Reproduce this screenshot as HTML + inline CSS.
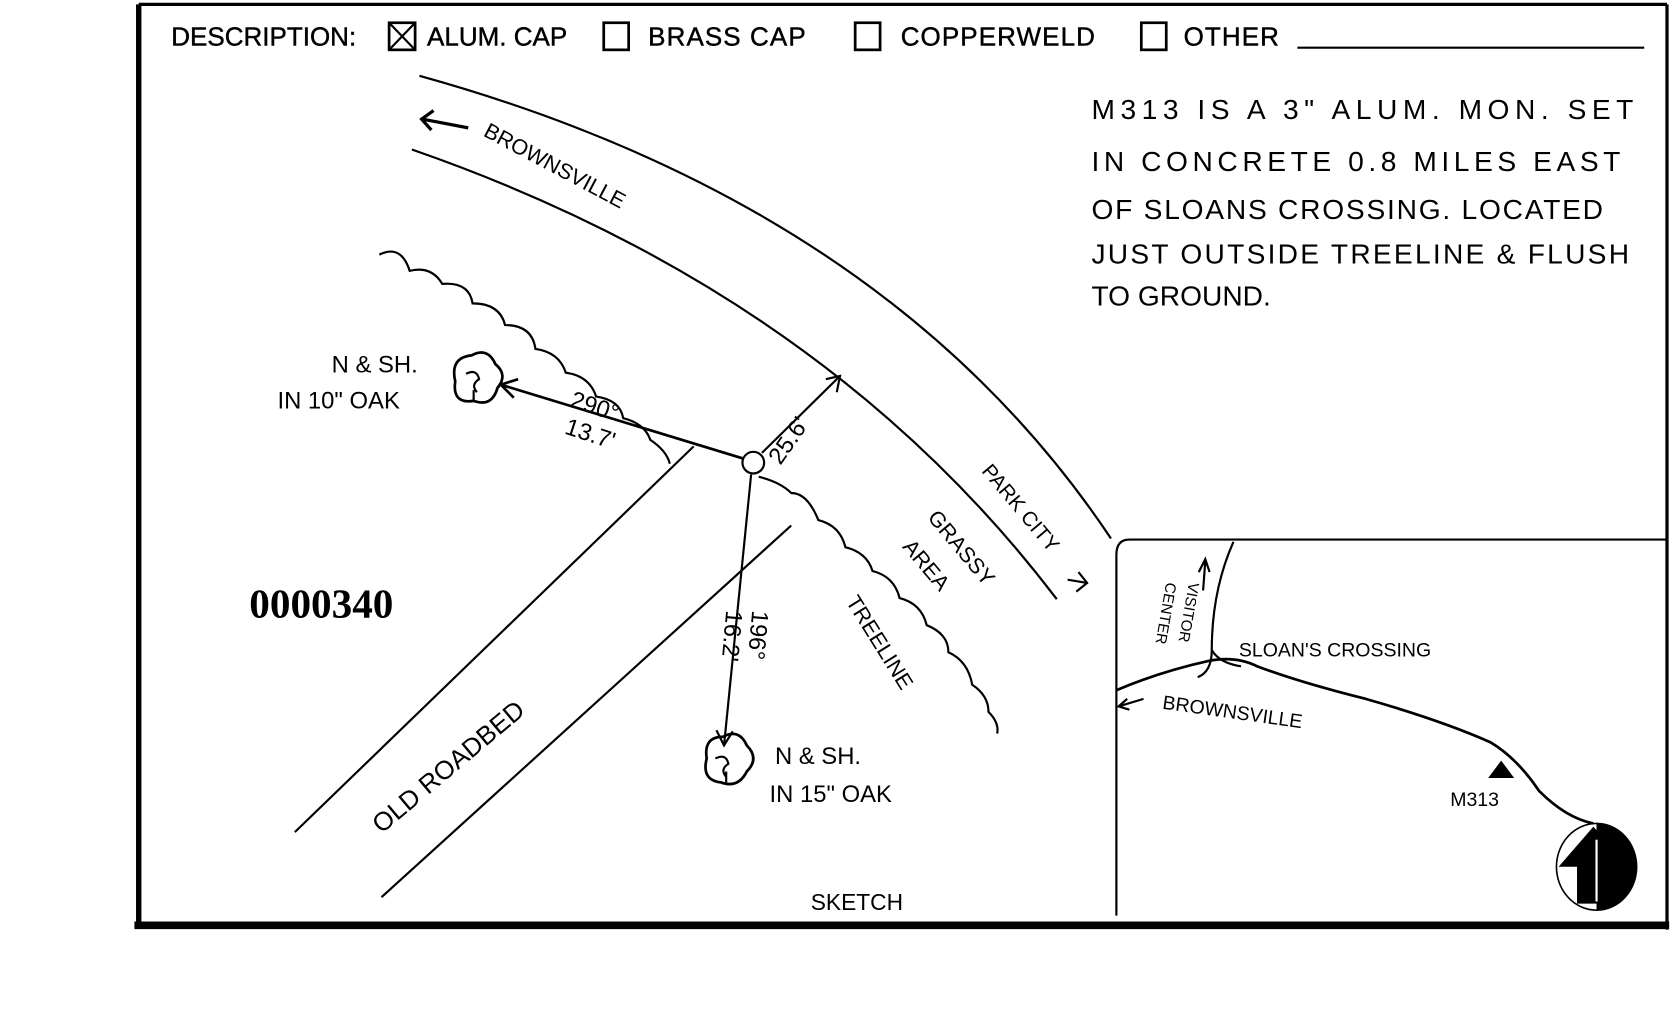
<!DOCTYPE html>
<html><head><meta charset="utf-8"><style>
html,body{margin:0;padding:0;background:#fff;}
svg{display:block}
text{font-family:"Liberation Sans",sans-serif;fill:#000}
.h{font-family:"Liberation Sans Narrow","Liberation Sans",sans-serif;}
</style></head><body>
<svg width="1680" height="1012" viewBox="0 0 1550 934" preserveAspectRatio="none">
<g fill="none" stroke="#000">
<line x1="128" y1="4" x2="1538" y2="4" stroke-width="3"/>
<line x1="128" y1="4" x2="128" y2="855" stroke-width="5"/>
<line x1="1538" y1="4" x2="1538" y2="858" stroke-width="3"/>
<line x1="124" y1="854" x2="1540" y2="854" stroke-width="7"/>
<rect x="359" y="21" width="24" height="25" stroke-width="2.5"/>
<line x1="359" y1="21" x2="383" y2="46" stroke-width="2"/><line x1="383" y1="21" x2="359" y2="46" stroke-width="2"/>
<rect x="557" y="21" width="23" height="25" stroke-width="2.5"/>
<rect x="789" y="21" width="23" height="25" stroke-width="2.5"/>
<rect x="1053" y="21" width="23" height="25" stroke-width="2.5"/>
<line x1="1197" y1="44" x2="1517" y2="44" stroke-width="2"/>
<path d="M387,70 Q820,190 1025,497" stroke-width="2"/>
<path d="M380,138 Q760,270 975,553" stroke-width="2"/>
<path d="M350,235 q20,-10 28,15 q20,-5 30,12 q25,-2 28,18 q25,0 30,20 q25,0 28,22 q22,3 28,22 q22,3 28,22 q22,3 25,20 q20,5 25,20 q15,10 18,22" stroke-width="2"/>
<path d="M700,440 q20,5 30,15 q15,0 25,25 q20,5 25,25 q20,5 25,22 q20,5 25,25 q20,5 25,25 q20,8 20,25 q18,8 22,30 q15,10 15,25 q10,10 8,20" stroke-width="2"/>
<line x1="272" y1="768" x2="640" y2="412" stroke-width="2"/>
<line x1="352" y1="828" x2="730" y2="485" stroke-width="2"/>
<circle cx="695" cy="427" r="10" stroke-width="2"/>
<line x1="685" y1="423" x2="462" y2="355" stroke-width="2.5"/>
<path d="M478,350 L462,355 L474,367" stroke-width="2.5"/>
<line x1="703" y1="418" x2="775" y2="347" stroke-width="2"/>
<path d="M762,350 L775,347 L772,362" stroke-width="2"/>
<line x1="693" y1="438" x2="668" y2="688" stroke-width="2"/>
<path d="M661,674 L668,688 L676,675" stroke-width="2"/>
<path d="M420,352 q-5,-22 15,-24 q15,-8 22,8 q12,10 2,22 q-5,18 -22,12 q-20,3 -17,-18 z" stroke-width="2.5"/>
<path d="M430,345 q10,-5 12,5 q-8,5 -2,12 M437,360 v10" stroke-width="2"/>
<path d="M652,700 q-3,-20 15,-20 q15,-8 22,8 q12,12 0,24 q-8,16 -24,10 q-18,-2 -13,-22 z" stroke-width="2.5"/>
<path d="M660,700 q10,-5 12,5 q-8,5 -2,12 M670,712 v10" stroke-width="2"/>
<path d="M1538,498 L1042,498 Q1030,498 1030,512 L1030,845" stroke-width="2"/>
<path d="M1030,637 Q1070,620 1115,610 Q1140,605 1160,615 Q1200,630 1260,645 Q1330,665 1375,685 Q1400,700 1420,730 Q1445,755 1470,760" stroke-width="2.5"/>
<path d="M1138,500 Q1118,545 1118,600 Q1118,620 1105,625" stroke-width="2"/>
<path d="M1118,600 Q1125,612 1145,615" stroke-width="2"/>
<path d="M1110,545 L1112,518 M1106,528 L1112,516 L1116,528" stroke-width="2"/>
<path d="M1040,645 L1032,652 L1042,655 M1032,652 L1055,645" stroke-width="2"/>
<path d="M390,110 L432,118 M400,102 L389,110 L398,120" stroke-width="3"/>
<path d="M985,535 L1003,538 M995,528 L1003,538 L993,546" stroke-width="2"/>
<ellipse cx="1473" cy="800" rx="37" ry="40" stroke-width="1.5"/>
</g>
<path d="M1373,718 L1385,702 L1397,718 Z" fill="#000"/>
<path d="M1473,760 A37,40 0 0 1 1473,840 Z" fill="#000"/>
<path d="M1470,763 L1438,800 L1455,800 L1455,834 L1488,834 L1488,800 L1506,800 Z" fill="#000"/>
<path d="M1473,775 L1473,832" stroke="#fff" stroke-width="2"/>
<g font-size="24" stroke="#000" stroke-width="0.4">
<text x="158" y="42">DESCRIPTION:</text>
<text x="394" y="42">ALUM. CAP</text>
<text x="598" y="42" letter-spacing="1">BRASS CAP</text>
<text x="831" y="42" letter-spacing="1">COPPERWELD</text>
<text x="1092" y="42" letter-spacing="1">OTHER</text>
</g>
<g class="h" font-size="26">
<text x="1007" y="110" textLength="500">M313 IS A 3" ALUM. MON. SET</text>
<text x="1007" y="158" textLength="488">IN CONCRETE  0.8 MILES EAST</text>
<text x="1007" y="202" textLength="472">OF SLOANS CROSSING.  LOCATED</text>
<text x="1007" y="243" textLength="496">JUST OUTSIDE TREELINE &amp; FLUSH</text>
<text x="1007" y="282">TO GROUND.</text>
</g>
<text class="h" x="445" y="125" font-size="20" transform="rotate(28 445 125)">BROWNSVILLE</text>
<text class="h" x="306" y="344" font-size="22">N &amp; SH.</text>
<text class="h" x="256" y="377" font-size="22">IN 10" OAK</text>
<text class="h" x="525" y="375" font-size="22" transform="rotate(18 525 375)">290°</text>
<text class="h" x="520" y="400" font-size="22" transform="rotate(18 520 400)">13.7'</text>
<text class="h" x="720" y="430" font-size="22" transform="rotate(-55 720 430)">25.6'</text>
<text class="h" x="905" y="435" font-size="19" transform="rotate(50 905 435)">PARK CITY</text>
<text class="h" x="855" y="478" font-size="20" transform="rotate(50 855 478)">GRASSY</text>
<text class="h" x="832" y="505" font-size="20" transform="rotate(50 832 505)">AREA</text>
<text class="h" x="780" y="555" font-size="20" transform="rotate(58 780 555)">TREELINE</text>
<text class="h" x="694" y="563" font-size="22" transform="rotate(95 694 563)">196°</text>
<text class="h" x="670" y="563" font-size="22" transform="rotate(95 670 563)">16.2'</text>
<text class="h" x="715" y="705" font-size="22">N &amp; SH.</text>
<text class="h" x="710" y="740" font-size="22">IN 15" OAK</text>
<text class="h" x="352" y="770" font-size="24" transform="rotate(-40 352 770)">OLD  ROADBED</text>
<text x="230" y="570" font-size="38" font-weight="bold" style="font-family:'Liberation Serif',serif">0000340</text>
<text x="748" y="840" font-size="21">SKETCH</text>
<text class="h" x="1143" y="606" font-size="18">SLOAN'S CROSSING</text>
<text class="h" x="1072" y="654" font-size="18" transform="rotate(8 1072 654)">BROWNSVILLE</text>
<text class="h" x="1097" y="537" font-size="14" transform="rotate(100 1097 537)">VISITOR</text>
<text class="h" x="1076" y="537" font-size="14" transform="rotate(100 1076 537)">CENTER</text>
<text class="h" x="1338" y="744" font-size="18">M313</text>
</svg>
</body></html>
